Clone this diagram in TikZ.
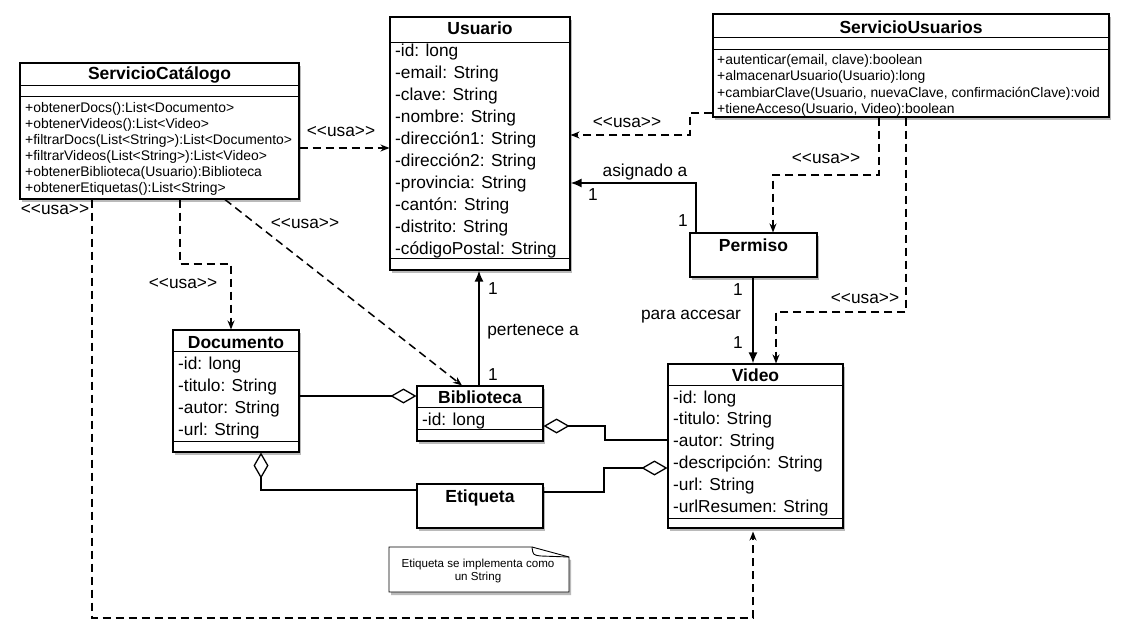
\documentclass[tikz,border=0pt]{standalone}
\usepackage{fontspec}
\setmainfont{Liberation Sans}
\usetikzlibrary{arrows.meta,shadows}

% stereotype label, with kerns so that << and >> are not turned into guillemets
\newcommand\usalabel{<\kern0pt<usa>\kern0pt>}

\tikzset{
  boxshadow/.style={drop shadow={shadow xshift=2pt, shadow yshift=-3pt, opacity=0.45, fill=black!60}},
  box/.style={draw, line width=1.1pt, fill=white, inner sep=0pt, boxshadow},
  sep/.style={line width=1.1pt},
  ttl/.style={font=\fontsize{17.5}{20}\bfseries\selectfont, anchor=base, inner sep=0pt},
  attr/.style={font=\fontsize{17.3}{20}\selectfont, anchor=base west, inner sep=0pt},
  meth/.style={font=\fontsize{13.9}{16}\selectfont, anchor=base west, inner sep=0pt},
  lbl/.style={font=\fontsize{17.3}{20}\selectfont, inner sep=0pt},
  notetxt/.style={font=\fontsize{11.6}{13.5}\selectfont, align=center, inner sep=0pt},
  uses/.style={line width=1.5pt, dash pattern=on 8pt off 5pt,
    -{Stealth[length=9pt, width=7pt, inset=3pt]}},
  assoc/.style={line width=1.8pt, -{Latex[length=11pt, width=9pt]}},
  aggr/.style={line width=1.8pt,
    {Diamond[length=26pt, width=15pt, fill=white, line width=1.3pt]}-},
}

\begin{document}
\begin{tikzpicture}[x=1pt, y=-1pt]
\fill[white] (0,0) rectangle (1129,631);
\useasboundingbox (0,0) rectangle (1129,631);

% ---------- ServicioCatálogo ----------
\node[box, minimum width=279, minimum height=136] (sc) at (159.5,131) {};
\node[ttl] (sc-t) at (159.5,80) {ServicioCatálogo};
\draw[sep] ([yshift=-23pt]sc.north west) -- ([yshift=-23pt]sc.north east);
\draw[sep] ([yshift=-34pt]sc.north west) -- ([yshift=-34pt]sc.north east);
\foreach \t [count=\i from 0] in {%
  +obtenerDocs():List<Documento>,
  +obtenerVideos():List<Video>,
  +filtrarDocs(List<String>):List<Documento>,
  +filtrarVideos(List<String>):List<Video>,
  +obtenerBiblioteca(Usuario):Biblioteca,
  +obtenerEtiquetas():List<String>}
  \node[meth] (sc-m\i) at (25,112.5+16*\i) {\t};

% ---------- Usuario ----------
\node[box, minimum width=180, minimum height=253] (usuario) at (480,143.5) {};
\node[ttl] (usuario-t) at (480,35) {Usuario};
\draw[sep] ([yshift=-26pt]usuario.north west) -- ([yshift=-26pt]usuario.north east);
\draw[sep] ([yshift=12pt]usuario.south west) -- ([yshift=12pt]usuario.south east);
\foreach \t [count=\i from 0] in {%
  -id: long, -email: String, -clave: String, -nombre: String,
  -dirección1: String, -dirección2: String, -provincia: String,
  -cantón: String, -distrito: String, -códigoPostal: String}
  \node[attr] (usuario-a\i) at (395,56.5+22*\i) {\t};

% ---------- ServicioUsuarios ----------
\node[box, minimum width=396, minimum height=103] (su) at (911,65.5) {};
\node[ttl] (su-t) at (911,34) {ServicioUsuarios};
\draw[sep] ([yshift=-24pt]su.north west) -- ([yshift=-24pt]su.north east);
\draw[sep] ([yshift=-36pt]su.north west) -- ([yshift=-36pt]su.north east);
\foreach \t [count=\i from 0] in {%
  {+autenticar(email, clave):boolean},
  +almacenarUsuario(Usuario):long,
  {+cambiarClave(Usuario, nuevaClave, confirmaciónClave):void},
  {+tieneAcceso(Usuario, Video):boolean}}
  \node[meth] (su-m\i) at (717,64.5+16.5*\i) {\t};

% ---------- Permiso ----------
\node[box, minimum width=127, minimum height=44] (permiso) at (753.5,255) {};
\node[ttl] (permiso-t) at (753.5,251) {Permiso};

% ---------- Documento ----------
\node[box, minimum width=126, minimum height=122] (documento) at (236,391) {};
\node[ttl] (documento-t) at (236,348) {Documento};
\draw[sep] ([yshift=-22pt]documento.north west) -- ([yshift=-22pt]documento.north east);
\draw[sep] ([yshift=11pt]documento.south west) -- ([yshift=11pt]documento.south east);
\foreach \t [count=\i from 0] in {-id: long, -titulo: String, -autor: String, -url: String}
  \node[attr] (documento-a\i) at (178,369.5+22*\i) {\t};

% ---------- Biblioteca ----------
\node[box, minimum width=126, minimum height=55] (biblioteca) at (480,413.5) {};
\node[ttl] (biblioteca-t) at (480,403) {Biblioteca};
\draw[sep] ([yshift=-22pt]biblioteca.north west) -- ([yshift=-22pt]biblioteca.north east);
\draw[sep] ([yshift=12pt]biblioteca.south west) -- ([yshift=12pt]biblioteca.south east);
\node[attr] (biblioteca-a0) at (422,425.5) {-id: long};

% ---------- Etiqueta ----------
\node[box, minimum width=126, minimum height=44] (etiqueta) at (480,506) {};
\node[ttl] (etiqueta-t) at (480,502) {Etiqueta};

% ---------- Video ----------
\node[box, minimum width=175, minimum height=164] (video) at (755.5,446) {};
\node[ttl] (video-t) at (755.5,381) {Video};
\draw[sep] ([yshift=-22pt]video.north west) -- ([yshift=-22pt]video.north east);
\draw[sep] ([yshift=10pt]video.south west) -- ([yshift=10pt]video.south east);
\foreach \t [count=\i from 0] in {%
  -id: long, -titulo: String, -autor: String, -descripción: String,
  -url: String, -urlResumen: String}
  \node[attr] (video-a\i) at (673,403+21.9*\i) {\t};

% ---------- note ----------
\path[draw, line width=0.9pt, fill=white, boxshadow]
  (389,547) -- (532,547) -- (569,557) -- (569,592) -- (389,592) -- cycle;
\draw[line width=0.9pt] (532,547) .. controls (533,555) .. (541,556) -- (569,557);
\node[notetxt] (note) at (478,571) {Etiqueta se implementa como\\un String};

% ---------- usage dependencies ----------
\draw[uses] (sc.east |- 0,148) -- (usuario.west |- 0,148);
\node[lbl] (l-sc-u) at (341,132) {\usalabel};

\draw[uses] (su.west |- 0,113) -- (690,113) |- (usuario.east |- 0,135);
\node[lbl] (l-su-u) at (627,123) {\usalabel};

\draw[uses] (su.south -| 879,0) |- (773,175) -- (permiso.north -| 773,0);
\node[lbl] (l-su-p) at (826,159) {\usalabel};

\draw[uses] (su.south -| 906,0) |- (776,312) -- (video.north -| 776,0);
\node[lbl] (l-su-v) at (865,299) {\usalabel};

\draw[uses] (sc.south -| 180,0) |- (231,264) -- (documento.north -| 231,0);
\node[lbl] (l-sc-d) at (183,284) {\usalabel};

\draw[uses] (sc.south -| 225,0) -- (biblioteca.north -| 462,0);
\node[lbl] (l-sc-b) at (305,224) {\usalabel};

\draw[uses] (sc.south -| 92,0) |- (753,618) -- ([yshift=-3pt]video.south -| 753,0);
\node[lbl] (l-sc-v) at (55,210) {\usalabel};

% ---------- associations ----------
\draw[assoc] (permiso.north -| 696,0) |- (usuario.east |- 0,183);
\node[lbl] (l-asig) at (645,172) {asignado a};
\node[lbl] (l-asig1) at (593,195) {1};
\node[lbl] (l-asig2) at (683,221) {1};

\draw[assoc] (permiso.south -| 753,0) -- (video.north -| 753,0);
\node[lbl] (l-acc1) at (738,290) {1};
\node[lbl] (l-acc) at (691,317) {para accesar};
\node[lbl] (l-acc2) at (738,343) {1};

\draw[assoc] (biblioteca.north -| 479,0) -- (usuario.south -| 479,0);
\node[lbl] (l-per1) at (493,289) {1};
\node[lbl] (l-per) at (533,332) {pertenece a};
\node[lbl] (l-per2) at (493,375) {1};

% ---------- aggregations ----------
\draw[aggr] (biblioteca.west |- 0,396) -- (documento.east |- 0,396);
\draw[aggr] (biblioteca.east |- 0,426) -- (605,426) |- (video.west |- 0,440);
\draw[aggr] (video.west |- 0,468) -- (604,468) |- (etiqueta.east |- 0,492);
\draw[aggr] (documento.south -| 261,0) |- (etiqueta.west |- 0,490);
\end{tikzpicture}
\end{document}
